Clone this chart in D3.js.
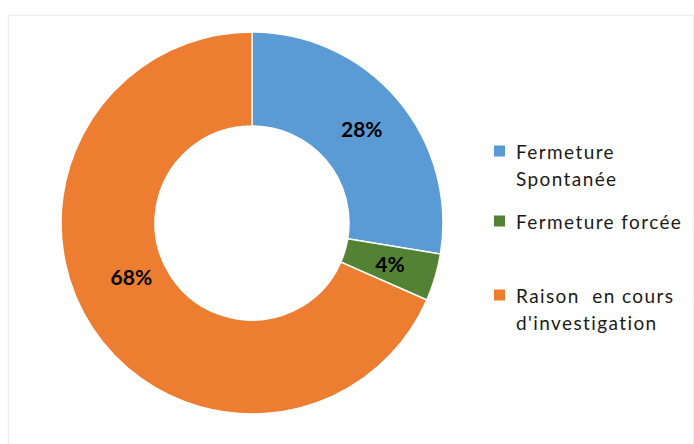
<!DOCTYPE html>
<html>
<head>
<meta charset="utf-8">
<script src="https://cdn.jsdelivr.net/npm/d3@7"></script>
<style>
  body { margin: 0; background: #fff; }
  svg { display: block; }
</style>
</head>
<body>
<svg id="chart" width="694" height="444"></svg>
<script>
// data
var categories = ['Fermeture Spontanée', 'Fermeture forcée', 'Raison  en cours d\'investigation']
var legendLines = [['Fermeture', 'Spontanée'], ['Fermeture forcée'], ['Raison  en cours', 'd\'investigation']]
var values = [27.6, 4.0, 68.4]
var labels = ['28%', '4%', '68%']
var colors = ['#5B9BD5', '#548235', '#ED7D31']

var w = 694;
var h = 444;
var cx = 252, cy = 223;
var outerR = 191, innerR = 97;

var svg = d3.select('#chart');

// chart frame
svg.append('rect')
  .attr('x', 8.5).attr('y', 15.5)
  .attr('width', 685).attr('height', 440)
  .attr('fill', 'none')
  .attr('stroke', '#ededed')
  .attr('stroke-width', 1.5);

var pie = d3.pie().sort(null).value(d => d);
var arc = d3.arc().innerRadius(innerR).outerRadius(outerR);

var g = svg.append('g').attr('transform', 'translate(' + cx + ',' + cy + ')');

var arcs = pie(values);

g.selectAll('path.slice')
  .data(arcs)
  .enter().append('path')
  .attr('class', 'slice')
  .attr('d', arc)
  .attr('fill', (d, i) => colors[i])
  .attr('stroke', '#fff')
  .attr('stroke-width', 1.5);

// labels: centroid, orange one pulled up a bit like Excel does
g.selectAll('text.lbl')
  .data(arcs)
  .enter().append('text')
  .attr('class', 'lbl')
  .attr('transform', function(d, i) {
    var c = arc.centroid(d);
    if (i == 2) c = [c[0], c[1] - 24];
    return 'translate(' + c[0] + ',' + c[1] + ')';
  })
  .attr('text-anchor', 'middle')
  .attr('dy', '0.36em')
  .attr('font-family', 'Lato, "Open Sans", sans-serif')
  .attr('font-weight', 'bold')
  .attr('font-size', 21)
  .attr('fill', '#000')
  .text((d, i) => labels[i]);

// legend
var legendY = [151, 221, 295];
var leg = svg.append('g');
legendLines.forEach(function(lines, i) {
  leg.append('rect')
    .attr('x', 494).attr('y', legendY[i] - 5.5)
    .attr('width', 11).attr('height', 11)
    .attr('fill', colors[i]);
  lines.forEach(function(t, j) {
    leg.append('text')
      .attr('x', 516)
      .attr('y', legendY[i] + 8 + j * 27)
      .attr('font-family', 'Lato, "Open Sans", sans-serif')
      .attr('font-size', 19)
      .attr('letter-spacing', 1.4)
      .attr('fill', '#1a1a1a')
      .style('white-space', 'pre')
      .text(t);
  });
});
</script>
</body>
</html>
